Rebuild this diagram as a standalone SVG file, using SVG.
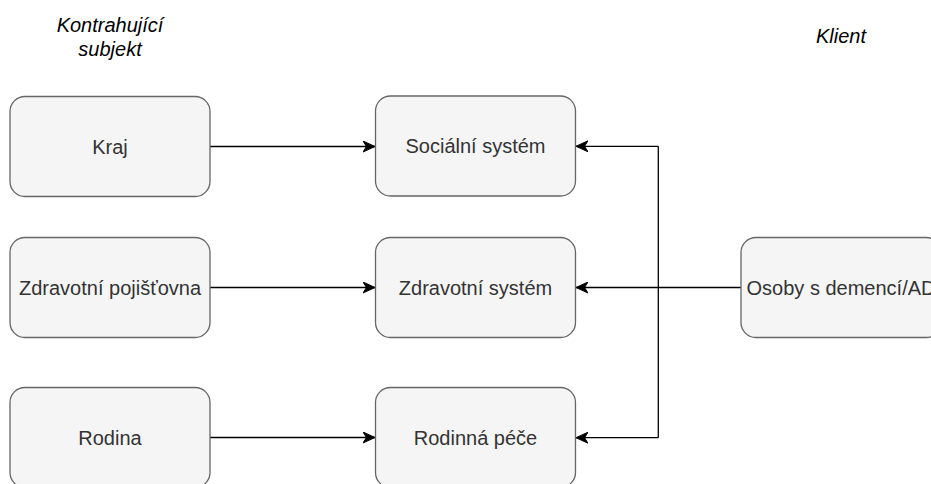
<svg xmlns="http://www.w3.org/2000/svg" width="931" height="484" viewBox="0 0 931 484">
  <style>
    .box { fill: #f5f5f5; stroke: #666666; stroke-width: 1.3; }
    .lbl { font-family: "Liberation Sans", Arial, sans-serif; font-size: 20px; fill: #333333; text-anchor: middle; }
    .title { font-family: "Liberation Sans", Arial, sans-serif; font-size: 20px; font-style: italic; fill: #000000; text-anchor: middle; }
    .edge { fill: none; stroke: #000000; stroke-width: 1.3; marker-end: url(#arrow); }
    .line { fill: none; stroke: #000000; stroke-width: 1.3; }
  </style>
  <defs>
    <marker id="arrow" markerUnits="userSpaceOnUse" markerWidth="14" markerHeight="12" viewBox="-12 -6 14 12" refX="0" refY="0" orient="auto">
      <path d="M0,0 L-12,-5.5 L-8.5,0 L-12,5.5 Z" fill="#000000" stroke="#000000" stroke-width="1"/>
    </marker>
  </defs>

  <text class="title" x="110" y="32">Kontrahující</text>
  <text class="title" x="110" y="55.5">subjekt</text>
  <text class="title" x="841" y="43">Klient</text>

  <g id="connectors">
    <path class="edge" d="M210,146.5 L375,146.5"/>
    <path class="edge" d="M210,287.5 L375,287.5"/>
    <path class="edge" d="M210,437.5 L375,437.5"/>
    <path class="edge" d="M741,287.5 L576,287.5"/>
    <path class="line" d="M658.3,146.3 L658.3,437.7"/>
    <path class="edge" d="M658.3,146.3 L576,146.3"/>
    <path class="edge" d="M658.3,437.7 L576,437.7"/>
  </g>

  <g id="kraj">
    <rect class="box" x="10" y="96.5" width="200" height="100" rx="15" ry="15"/>
    <text class="lbl" x="110" y="153.5">Kraj</text>
  </g>
  <g id="zdravotni-pojistovna">
    <rect class="box" x="10" y="237.5" width="200" height="100" rx="15" ry="15"/>
    <text class="lbl" x="110" y="294.5">Zdravotní pojišťovna</text>
  </g>
  <g id="rodina">
    <rect class="box" x="10" y="387.5" width="200" height="100" rx="15" ry="15"/>
    <text class="lbl" x="110" y="444.5">Rodina</text>
  </g>
  <g id="socialni-system">
    <rect class="box" x="375.5" y="96" width="200" height="100" rx="15" ry="15"/>
    <text class="lbl" x="475.5" y="153">Sociální systém</text>
  </g>
  <g id="zdravotni-system">
    <rect class="box" x="375.5" y="237.5" width="200" height="100" rx="15" ry="15"/>
    <text class="lbl" x="475.5" y="294.5">Zdravotní systém</text>
  </g>
  <g id="rodinna-pece">
    <rect class="box" x="375.5" y="387.5" width="200" height="100" rx="15" ry="15"/>
    <text class="lbl" x="475.5" y="444.5">Rodinná péče</text>
  </g>
  <g id="osoby">
    <rect class="box" x="741" y="237.5" width="200" height="100" rx="15" ry="15"/>
    <text class="lbl" x="841" y="294.5">Osoby s demencí/AD</text>
  </g>
</svg>
